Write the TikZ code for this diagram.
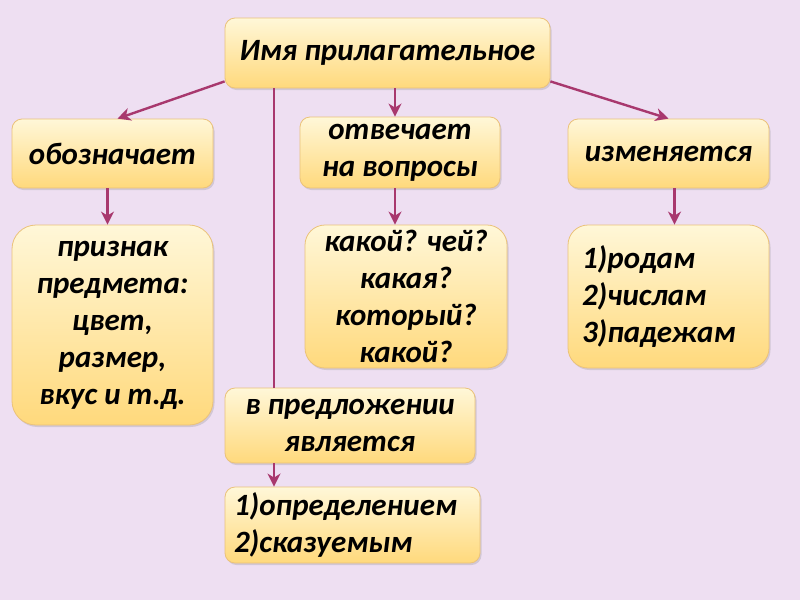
\documentclass[tikz,border=0pt]{standalone}
\usepackage{fontspec}
\setmainfont{Carlito}
\usetikzlibrary{shadows,arrows.meta}
\definecolor{bg}{HTML}{EEDFF2}
\definecolor{ln}{HTML}{A8386E}
\definecolor{btop}{HTML}{FFF7D8}
\definecolor{bbot}{HTML}{FFD97C}
\definecolor{bdr}{HTML}{EBC27A}
\begin{document}
\begin{tikzpicture}[x=1pt,y=-1pt,
  box/.style={draw=bdr, line width=0.8pt, rounded corners=10pt,
    top color=btop, bottom color=bbot,
    drop shadow={shadow xshift=1.5pt, shadow yshift=-2pt, opacity=0.25},
    font=\fontsize{31}{37}\selectfont\bfseries\itshape, inner sep=0pt, align=center},
  conn/.style={ln, line width=2.4pt},
  arr/.style={conn, -{Stealth[length=13pt,width=13pt,inset=4pt]}}]
\fill[bg] (0,0) rectangle (800,600);
\useasboundingbox (0,0) rectangle (800,600);

\node[box, minimum width=325pt, minimum height=70pt] (top) at (387.5,53) {Имя прилагательное};
\node[box, minimum width=201pt, minimum height=69pt] (obozn) at (112.5,153.5) {обозначает};
\node[box, minimum width=200pt, minimum height=71pt] (otv) at (400,152.5) {отвечает\\на вопросы};
\node[box, minimum width=201pt, minimum height=69pt] (izm) at (668.5,153.5) {изменяется};
\node[box, rounded corners=24pt, minimum width=201pt, minimum height=200pt] (priz) at (112.5,325) {признак\\предмета:\\цвет,\\размер,\\вкус и т.д.};
\node[box, rounded corners=20pt, minimum width=202pt, minimum height=143pt] (kak) at (406,296.5) {какой? чей?\\какая?\\который?\\какой?};
\node[box, rounded corners=20pt, minimum width=201pt, minimum height=143pt, text width=173pt, align=left] (rod) at (668.5,296.5) {1)родам\\2)числам\\3)падежам};
\node[box, minimum width=250pt, minimum height=75pt] (vpred) at (350,425.5) {в предложении\\является};
\node[box, minimum width=255pt, minimum height=76pt, text width=237pt, align=left] (opr) at (352.5,525) {1)определением\\2)сказуемым};

\coordinate (vx) at (274,0);
\draw[arr] ([yshift=7pt]top.south west) -- ([xshift=5pt]obozn.north);
\draw[arr] ([yshift=7pt]top.south east) -- (izm.north);
\draw[arr] ([xshift=-5pt]otv.north |- top.south) -- ([xshift=-5pt]otv.north);
\draw[conn] (top.south -| vx) -- (vpred.north -| vx);
\draw[arr] ([xshift=-5pt]obozn.south) -- ([xshift=-5pt]priz.north);
\draw[arr] ([xshift=-5pt]otv.south) coordinate (o1) -- (kak.north -| o1);
\draw[arr] ([xshift=6pt]izm.south) -- ([xshift=6pt]rod.north);
\draw[arr] (vpred.south -| vx) -- (opr.north -| vx);
\end{tikzpicture}
\end{document}
